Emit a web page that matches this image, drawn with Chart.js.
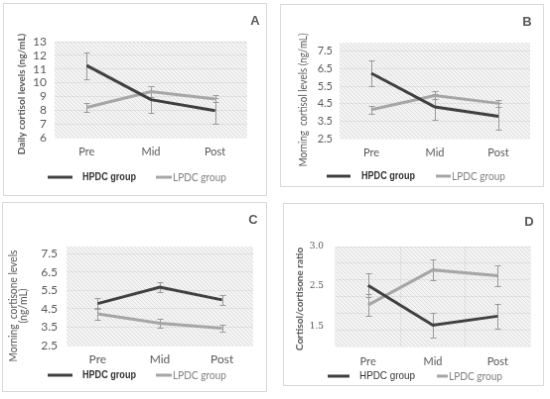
<!DOCTYPE html>
<html>
<head>
<meta charset="utf-8">
<script src="https://cdn.jsdelivr.net/npm/chart.js@4.4.1/dist/chart.umd.min.js"></script>
<style>
  body { margin: 0; background: #fff; width: 550px; height: 399px; position: relative; overflow: hidden; }
  canvas { position: absolute; border: 1px solid #d9d9d9; display: block; }
</style>
</head>
<body>
<canvas id="chartA" width="264" height="193" style="left:3px;top:3px"></canvas>
<canvas id="chartB" width="264" height="183" style="left:280px;top:4px"></canvas>
<canvas id="chartC" width="265" height="190" style="left:2px;top:202px"></canvas>
<canvas id="chartD" width="261" height="183" style="left:283px;top:203px"></canvas>
<script>
const categories = ['Pre', 'Mid', 'Post'];
const seriesNames = ['HPDC group', 'LPDC group'];

// A - daily cortisol (ng/mL)
const dailyHpdc = [11.26, 8.77, 7.96];
const dailyHpdcErr = [0.97, 0.98, 0.96];
const dailyLpdc = [8.2, 9.35, 8.82];
const dailyLpdcErr = [0.3, 0.38, 0.25];
const dailyTicks = [6, 7, 8, 9, 10, 11, 12, 13];

// B - morning cortisol (ng/mL)
const morningCortisolHpdc = [6.24, 4.31, 3.78];
const morningCortisolHpdcErr = [0.75, 0.76, 0.75];
const morningCortisolLpdc = [4.16, 4.97, 4.52];
const morningCortisolLpdcErr = [0.23, 0.23, 0.21];
const morningCortisolTicks = [2.5, 3.5, 4.5, 5.5, 6.5, 7.5];

// C - morning cortisone (ng/mL)
const cortisoneHpdc = [4.79, 5.69, 4.99];
const cortisoneHpdcErr = [0.29, 0.29, 0.27];
const cortisoneLpdc = [4.23, 3.72, 3.45];
const cortisoneLpdcErr = [0.33, 0.25, 0.21];
const cortisoneTicks = [2.5, 3.5, 4.5, 5.5, 6.5, 7.5];

// D - cortisol/cortisone ratio (labels sit where the original put them)
const ratioHpdc = [2.27, 1.52, 1.69];
const ratioHpdcErr = [0.22, 0.23, 0.23];
const ratioLpdc = [1.9, 2.56, 2.45];
const ratioLpdcErr = [0.21, 0.2, 0.2];
const ratioTickValues = [3.0, 2.26, 1.5];
const ratioTickLabels = ['3.0', '2.5', '1.5'];
const ratioGridLines = [1.12, 1.4333, 1.7467, 2.06, 2.3733, 2.6867, 3.0];

const hpdcColor = '#404040';
const lpdcColor = '#a6a6a6';
const errColor = '#9a9a9a';
const textColor = '#595959';

// light diagonal hatch used as plot background
const hatch = document.createElement('canvas');
hatch.width = 4; hatch.height = 4;
(function () {
    const g = hatch.getContext('2d');
    g.fillStyle = '#f4f4f4';
    g.fillRect(0, 0, 4, 4);
    g.strokeStyle = '#dddddd';
    g.lineWidth = 1;
    g.beginPath();
    g.moveTo(0, 0); g.lineTo(4, 4);
    g.moveTo(-1, 3); g.lineTo(1, 5);
    g.moveTo(3, -1); g.lineTo(5, 1);
    g.stroke();
})();

const panelExtras = {
    id: 'panelExtras',
    beforeDraw(chart) {
        const { ctx, chartArea: a } = chart;
        ctx.save();
        ctx.fillStyle = ctx.createPattern(hatch, 'repeat');
        ctx.fillRect(a.left, a.top, a.right - a.left, a.bottom - a.top);
        ctx.restore();
    },
    beforeDatasetsDraw(chart) {
        // error bars
        const { ctx } = chart;
        const y = chart.scales.y;
        ctx.save();
        ctx.strokeStyle = errColor;
        ctx.lineWidth = 1;
        chart.data.datasets.forEach((ds, i) => {
            chart.getDatasetMeta(i).data.forEach((pt, j) => {
                const v = ds.data[j], e = ds.errors[j];
                const x = Math.round(pt.x) + 0.5;
                const yt = Math.round(y.getPixelForValue(v + e)) + 0.5;
                const yb = Math.round(y.getPixelForValue(v - e)) + 0.5;
                ctx.beginPath();
                ctx.moveTo(x, yt); ctx.lineTo(x, yb);
                ctx.moveTo(x - 3, yt); ctx.lineTo(x + 3, yt);
                ctx.moveTo(x - 3, yb); ctx.lineTo(x + 3, yb);
                ctx.stroke();
            });
        });
        ctx.restore();
    },
    afterDraw(chart, args, o) {
        const { ctx, chartArea: a } = chart;
        ctx.save();

        // panel letter
        ctx.fillStyle = textColor;
        ctx.font = 'bold 13px "Liberation Sans"';
        ctx.textAlign = 'center';
        ctx.textBaseline = 'middle';
        ctx.fillText(o.letter, o.letterX, o.letterY);

        // y axis title
        const t = o.yTitle;
        ctx.save();
        ctx.translate(t.x, t.y);
        ctx.rotate(-Math.PI / 2);
        ctx.font = t.font;
        ctx.fillStyle = textColor;
        t.lines.forEach((line, k) => ctx.fillText(line, 0, k * t.gap, t.maxWidth));
        ctx.restore();

        // free-standing tick labels (panel D)
        if (o.tickText) {
            const y = chart.scales.y;
            ctx.font = o.tickText.font;
            ctx.textAlign = 'right';
            ctx.fillStyle = textColor;
            o.tickText.values.forEach((v, k) => {
                ctx.fillText(o.tickText.labels[k], a.left - o.tickText.pad, y.getPixelForValue(v));
            });
        }

        // legend
        const lg = o.legend;
        ctx.textAlign = 'left';
        chart.data.datasets.forEach((ds, i) => {
            const it = lg.items[i];
            ctx.strokeStyle = ds.borderColor;
            ctx.lineWidth = 3;
            ctx.beginPath();
            ctx.moveTo(it.x0, lg.y);
            ctx.lineTo(it.x1, lg.y);
            ctx.stroke();
            ctx.font = it.font;
            ctx.fillStyle = it.color;
            ctx.fillText(ds.label, it.tx, lg.y + 0.5, it.w);
        });
        ctx.restore();
    }
};

function makePanel(id, p) {
    const ctx = document.getElementById(id).getContext('2d');
    return new Chart(ctx, {
        type: 'line',
        data: {
            labels: categories,
            datasets: [
                { label: seriesNames[0], data: p.hpdc, errors: p.hpdcErr, borderColor: hpdcColor, borderWidth: 3, pointRadius: 0, tension: 0 },
                { label: seriesNames[1], data: p.lpdc, errors: p.lpdcErr, borderColor: lpdcColor, borderWidth: 3, pointRadius: 0, tension: 0 }
            ]
        },
        options: {
            responsive: false,
            animation: false,
            devicePixelRatio: 1,
            layout: { padding: { left: p.padL, right: p.padR, top: p.padT, bottom: 0 } },
            plugins: {
                legend: { display: false },
                tooltip: { enabled: false },
                panelExtras: p.extras
            },
            scales: {
                x: {
                    offset: true,
                    border: { display: false },
                    grid: { display: p.vGrid, offset: true, drawTicks: false, color: 'rgba(0,0,0,0.06)' },
                    ticks: { padding: p.xPad, color: textColor, font: { family: 'Lato', size: p.xFont } },
                    afterFit: s => { s.height = p.xH; }
                },
                y: {
                    min: p.min,
                    max: p.max,
                    border: { display: false },
                    afterBuildTicks: axis => { axis.ticks = p.ticks.map(v => ({ value: v })); },
                    grid: { drawTicks: false, color: 'rgba(0,0,0,0.06)' },
                    ticks: { display: p.showTicks, autoSkip: false, padding: p.yPad, color: textColor, font: { family: 'Lato', size: p.yFont } },
                    afterFit: s => { s.width = p.yW; }
                }
            }
        },
        plugins: [panelExtras]
    });
}

const legendBold = 'bold 10.5px "Liberation Sans"';
const legendReg = '11px Lato';

makePanel('chartA', {
    hpdc: dailyHpdc, hpdcErr: dailyHpdcErr, lpdc: dailyLpdc, lpdcErr: dailyLpdcErr,
    min: 6, max: 13, ticks: dailyTicks, showTicks: true,
    padL: 3, padR: 19, padT: 38, yW: 48, xH: 58, xPad: 8, yPad: 8, xFont: 11, yFont: 12, vGrid: false,
    extras: {
        letter: 'A', letterX: 253, letterY: 17,
        yTitle: { lines: ['Daily cortisol levels (ng/mL)'], x: 18, y: 91, gap: 0, font: 'bold 10px Lato', maxWidth: 125 },
        legend: { y: 175, items: [
            { x0: 44, x1: 69, tx: 79, w: 54, font: legendBold, color: '#333333' },
            { x0: 153, x1: 169, tx: 170, w: 54, font: legendReg, color: '#808080' }
        ] }
    }
});

makePanel('chartB', {
    hpdc: morningCortisolHpdc, hpdcErr: morningCortisolHpdcErr, lpdc: morningCortisolLpdc, lpdcErr: morningCortisolLpdcErr,
    min: 2.5, max: 8.0, ticks: morningCortisolTicks, showTicks: true,
    padL: 3, padR: 13, padT: 38, yW: 56, xH: 48, xPad: 8, yPad: 7, xFont: 11, yFont: 11, vGrid: false,
    extras: {
        letter: 'B', letterX: 248, letterY: 17,
        yTitle: { lines: ['Morning  cortisol levels (ng/mL)'], x: 23, y: 96, gap: 0, font: '10.5px Lato', maxWidth: 135 },
        legend: { y: 173, items: [
            { x0: 46, x1: 70, tx: 81, w: 54, font: legendBold, color: '#333333' },
            { x0: 156, x1: 171, tx: 172, w: 54, font: legendReg, color: '#808080' }
        ] }
    }
});

makePanel('chartC', {
    hpdc: cortisoneHpdc, hpdcErr: cortisoneHpdcErr, lpdc: cortisoneLpdc, lpdcErr: cortisoneLpdcErr,
    min: 2.5, max: 7.9, ticks: cortisoneTicks, showTicks: true,
    padL: 3, padR: 13, padT: 44, yW: 61, xH: 46, xPad: 7, yPad: 9, xFont: 12, yFont: 12, vGrid: false,
    extras: {
        letter: 'C', letterX: 252, letterY: 17,
        yTitle: { lines: ['Morning  cortisone levels', '(ng/mL)'], x: 11, y: 104, gap: 10, font: '10.5px Lato', maxWidth: 113 },
        legend: { y: 174, items: [
            { x0: 45, x1: 70, tx: 80, w: 54, font: legendBold, color: '#333333' },
            { x0: 154, x1: 170, tx: 171, w: 54, font: legendReg, color: '#808080' }
        ] }
    }
});

makePanel('chartD', {
    hpdc: ratioHpdc, hpdcErr: ratioHpdcErr, lpdc: ratioLpdc, lpdcErr: ratioLpdcErr,
    min: 1.12, max: 3.0, ticks: ratioGridLines, showTicks: false,
    padL: 3, padR: 13, padT: 43, yW: 49, xH: 39, xPad: 9, yPad: 0, xFont: 11, yFont: 9, vGrid: true,
    extras: {
        letter: 'D', letterX: 247, letterY: 18,
        yTitle: { lines: ['Cortisol/cortisone ratio'], x: 16, y: 96, gap: 0, font: 'bold 10px Lato', maxWidth: 106 },
        tickText: { values: ratioTickValues, labels: ratioTickLabels, pad: 12, font: '9px "DejaVu Serif"' },
        legend: { y: 174, items: [
            { x0: 44, x1: 66, tx: 76, w: 56, font: '10.5px "Liberation Sans"', color: '#333333' },
            { x0: 154, x1: 165, tx: 166, w: 54, font: legendReg, color: '#808080' }
        ] }
    }
});
</script>
</body>
</html>
